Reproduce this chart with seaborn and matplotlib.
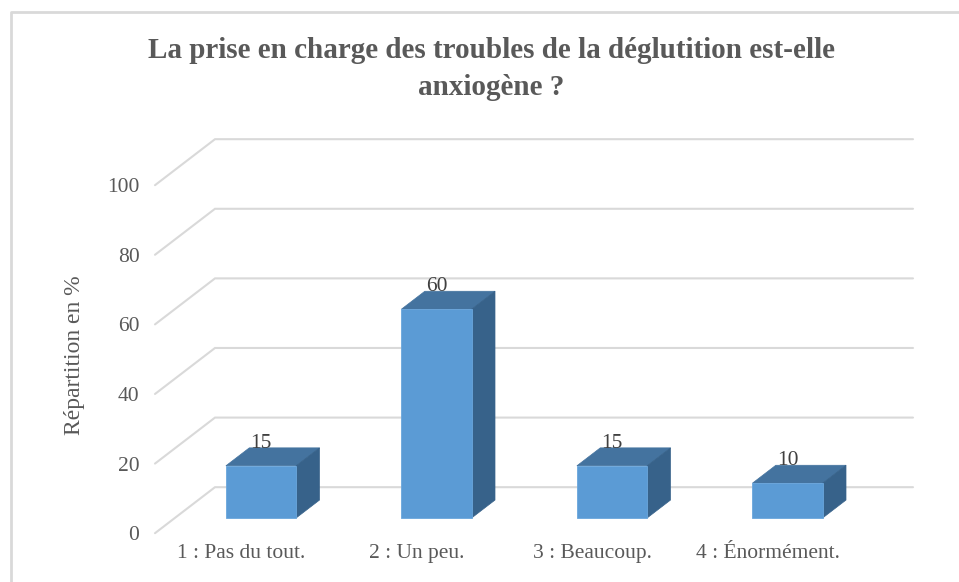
import matplotlib
matplotlib.use("Agg")
import matplotlib.pyplot as plt
import seaborn as sns
import pandas as pd
from matplotlib.patches import Polygon
from matplotlib.lines import Line2D

# ---- data ----
categories = ["1 : Pas du tout.", "2 : Un peu.", "3 : Beaucoup.", "4 : Énormément."]
values = [15, 60, 15, 10]
y_ticks = [0, 20, 40, 60, 80, 100]
title = "La prise en charge des troubles de la déglutition est-elle\nanxiogène ?"
ylabel = "Répartition en %"

df = pd.DataFrame({"cat": categories, "val": values})

sns.set_theme(style="white")
plt.rcParams["font.family"] = ["Liberation Serif", "DejaVu Serif"]

W, H = 959, 582
fig = plt.figure(figsize=(W / 100, H / 100), dpi=100)

# axes box in pixels
L, R, T, B = 145, 935, 120, 537
ax = fig.add_axes([L / W, 1 - B / H, (R - L) / W, (B - T) / H])

px_per_cat = 175.5
px_per_unit = 3.48
x0px, y0px = 261, 518

# depth geometry (front of bars at depth d0, back wall at depth 1)
DX = 60 / px_per_cat
DY = 46 / px_per_unit
d0 = 0.33
bar_depth = 0.39
x_left0 = (155 - x0px) / px_per_cat + d0 * DX
x_right_back = (913 - x0px) / px_per_cat

# front faces via seaborn
sns.barplot(data=df, x="cat", y="val", color="#5B9BD5", saturation=1,
            width=0.4, ax=ax, zorder=2, edgecolor="#6AA6DC", linewidth=0.6)

ax.set_xlim((L - x0px) / px_per_cat, (R - x0px) / px_per_cat)
ax.set_ylim((y0px - B) / px_per_unit, (y0px - T) / px_per_unit)

grid_col = "#D9D9D9"
for v in y_ticks:
    xf = x_left0 - d0 * DX
    yf = v - d0 * DY
    xb = x_left0 + (1 - d0) * DX
    yb = v + (1 - d0) * DY
    ax.add_line(Line2D([xf, xb, x_right_back], [yf, yb, yb], color=grid_col,
                       lw=1.5, zorder=0, clip_on=False, solid_joinstyle="miter"))

ox, oy = bar_depth * DX, bar_depth * DY
top_col, side_col = "#44739F", "#37628A"
for p in ax.patches[:len(values)]:
    x, y, w, h = p.get_x(), p.get_y(), p.get_width(), p.get_height()
    top = Polygon([(x, y + h), (x + w, y + h), (x + w + ox, y + h + oy), (x + ox, y + h + oy)],
                  closed=True, facecolor=top_col, edgecolor=top_col, lw=0.5, zorder=1.5)
    side = Polygon([(x + w, y), (x + w + ox, y + oy), (x + w + ox, y + h + oy), (x + w, y + h)],
                   closed=True, facecolor=side_col, edgecolor=side_col, lw=0.5, zorder=1.5)
    ax.add_patch(top)
    ax.add_patch(side)

# data labels
for i, v in enumerate(values):
    ax.text(i, v + 6.5, f"{v}", ha="center", va="center", fontsize=15.5,
            color="#404040", zorder=3)

# axes styling
for s in ax.spines.values():
    s.set_visible(False)
ax.set_yticks([v - d0 * DY for v in y_ticks])
ax.set_yticklabels([str(v) for v in y_ticks], color="#595959", fontsize=15.5)
ax.set_xticks([i - d0 * DX for i in range(len(categories))])
ax.set_xticklabels(categories, color="#595959", fontsize=15.5)
ax.tick_params(axis="both", length=0)
ax.tick_params(axis="y", pad=4)
ax.tick_params(axis="x", pad=5)
ax.set_xlabel("")
ax.set_ylabel(ylabel, color="#595959", fontsize=17)
ax.yaxis.set_label_coords((85 - L) / (R - L), (B - 355) / (B - T))
ax.set_facecolor("none")

# title
fig.text(491 / W, 1 - 69 / H, title, ha="center", va="center", fontsize=21,
         fontweight="bold", color="#595959", linespacing=1.45)

# chart border (top and left visible)
fig.add_artist(Line2D([11 / W, 11 / W, 1.0], [0.0, 1 - 12 / H, 1 - 12 / H],
                      transform=fig.transFigure, color="#D9D9D9", lw=2))

fig.savefig("out.png", dpi=100)
